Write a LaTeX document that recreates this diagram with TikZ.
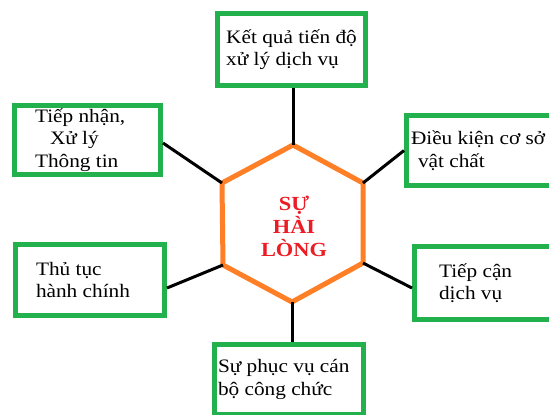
\documentclass[tikz,border=0pt]{standalone}
\usepackage{fontspec}
\setmainfont{Liberation Serif}[FakeStretch=1.12]
\definecolor{boxgreen}{RGB}{34,177,76}
\definecolor{hexorange}{RGB}{255,127,39}
\definecolor{hexred}{RGB}{237,28,36}
\begin{document}
\begin{tikzpicture}[x=1pt,y=-1pt,
  greenbox/.style={draw=boxgreen,line width=5pt,rectangle,inner sep=0pt,
    font=\fontsize{19}{22.5}\selectfont,align=flush left},
  link/.style={draw=black,line width=3pt},
  hexline/.style={draw=hexorange,line width=5pt,line join=miter}]
\useasboundingbox[fill=white] (0,0) rectangle (549,415);

% boxes
\node[greenbox,minimum width=148pt,minimum height=72pt] (top) at (291.5,49.5)
  {Kết quả tiến độ\\xử lý dịch vụ};
\node[greenbox,minimum width=146pt,minimum height=69pt,text width=105pt] (lt) at (87.5,140)
  {Tiếp nhận,\\\hspace*{15pt}Xử lý\\Thông tin};
\node[greenbox,minimum width=151pt,minimum height=70pt,text width=142pt] (rt) at (482,150.5)
  {Điều kiện cơ sở\\\hspace*{7pt}vật chất};
\node[greenbox,minimum width=149pt,minimum height=71pt,text width=108pt] (lb) at (90,280)
  {Thủ tục\\hành chính};
\node[greenbox,minimum width=148pt,minimum height=73pt,text width=99pt] (rb) at (488.5,283)
  {Tiếp cận\\dịch vụ};
\node[greenbox,minimum width=149pt,minimum height=70pt,text width=142pt] (bt) at (289,379.5)
  {Sự phục vụ cán\\bộ công chức};

% hexagon
\coordinate (hT) at (293,145);
\coordinate (hUL) at (222,183);
\coordinate (hLL) at (223,265);
\coordinate (hB) at (292,302);
\coordinate (hLR) at (363,263);
\coordinate (hUR) at (363,183);
\draw[hexline] (hT) -- (hUR) -- (hLR) -- (hB) -- (hLL) -- (hUL) -- cycle;
\node[text=hexred,font=\fontsize{20}{23}\selectfont\bfseries,align=center] (hex) at (294,226)
  {SỰ\\HÀI\\LÒNG};

% connectors
\draw[link] (top.south -| hT) -- (hT);
\draw[link] ([yshift=-3pt]lt.east) -- (hUL);
\draw[link] (rt.west) -- (hUR);
\draw[link] ([yshift=-8pt]lb.east) -- (hLL);
\draw[link] ([yshift=-5pt]rb.west) -- (hLR);
\draw[link] (bt.north -| hB) -- (hB);
\end{tikzpicture}
\end{document}
